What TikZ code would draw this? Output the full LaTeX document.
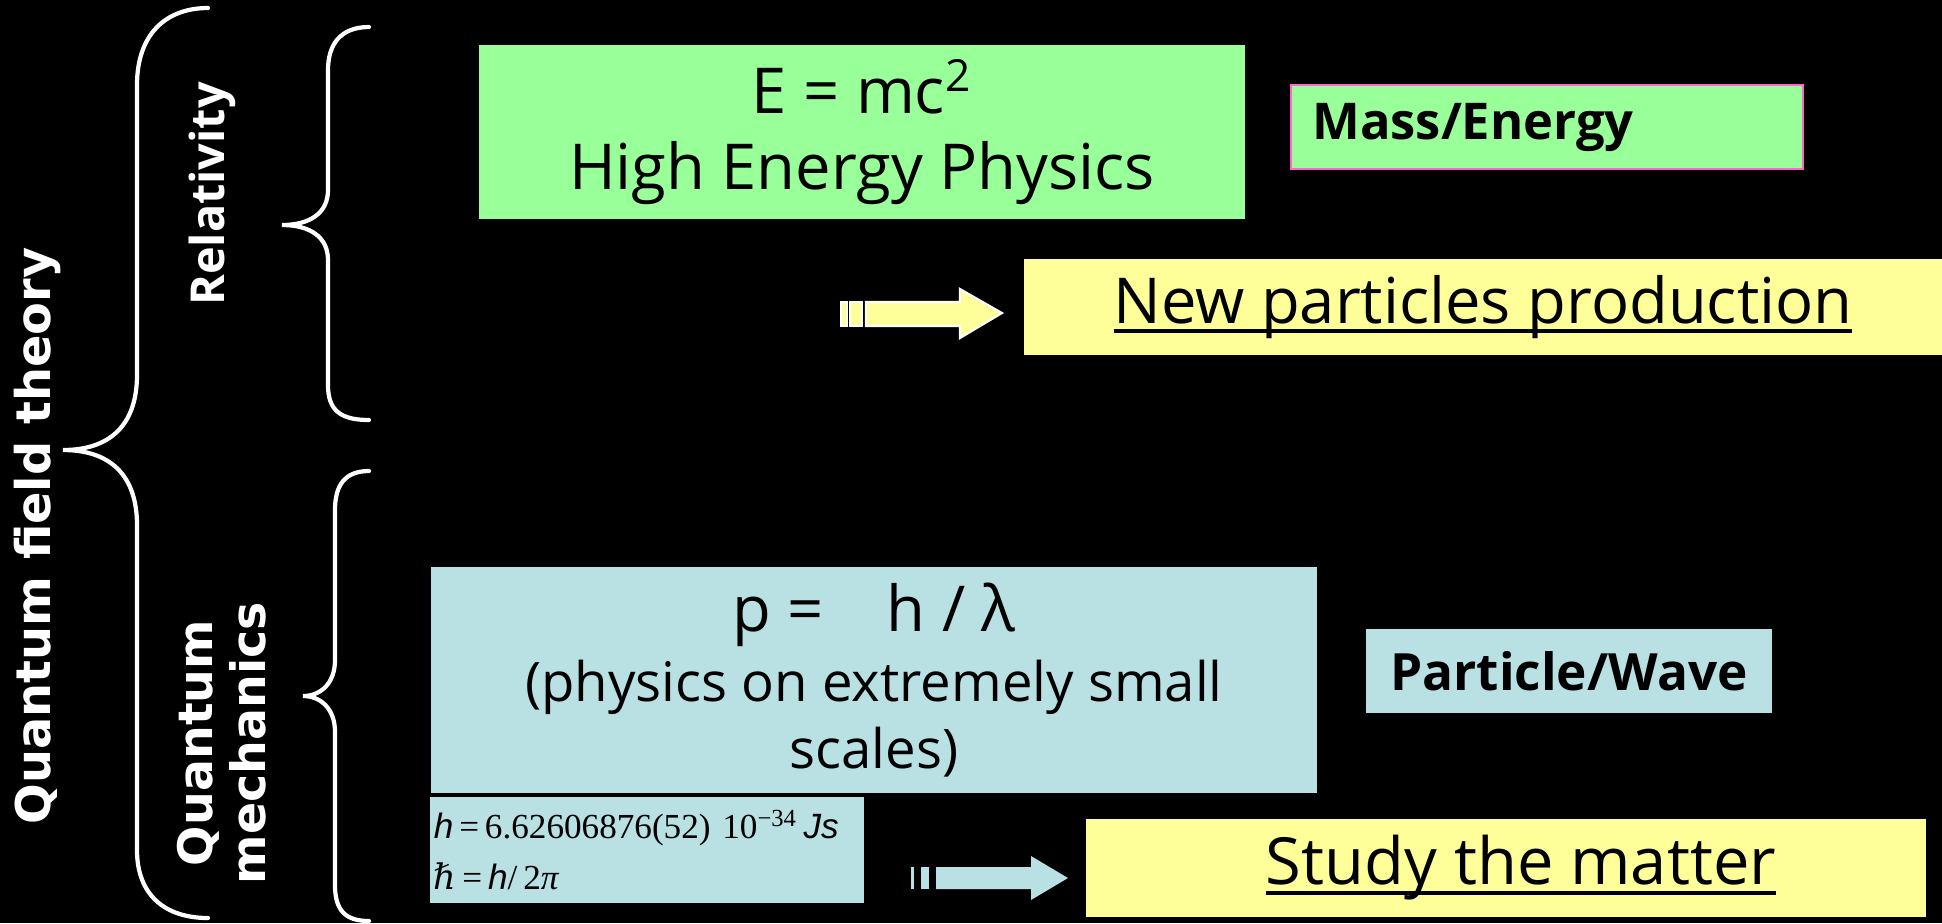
\documentclass[tikz,border=0pt]{standalone}
\usepackage{fontspec}
\setmainfont{Open Sans}
\newfontfamily\verdfont{DejaVu Sans}
\newfontfamily\serffont{Liberation Serif}
\newfontfamily\arialfont{Liberation Sans}
\newfontfamily\hbarfont{DejaVu Serif}
\newlength{\ulwidth}
\newcommand{\uln}[1]{\settowidth{\ulwidth}{#1}\rlap{\rule[-2.8pt]{\ulwidth}{1.1pt}}#1}
\definecolor{massgreen}{HTML}{99FF99}
\definecolor{prodyellow}{HTML}{FFFF99}
\definecolor{wavecyan}{HTML}{B9E1E4}
\definecolor{borderpink}{HTML}{FF66CC}

\begin{document}
\begin{tikzpicture}[
    x=0.01cm, y=-0.01cm,
    panel/.style={inner sep=0pt, align=center},
    brace/.style={draw=white, line width=1.2pt, line cap=round},
    sidelabel/.style={white, rotate=90, inner sep=0pt, align=center},
    yarrow/.style={fill=prodyellow, draw=white, line width=0.6pt},
    carrow/.style={fill=wavecyan}
]

% Background
\fill[black] (0,0) rectangle (1942,923);
\useasboundingbox (0,0) rectangle (1942,923);

% ===== Side labels =====
\node[sidelabel, font=\verdfont\bfseries\fontsize{13.6pt}{16pt}\selectfont] (qft) at (37,536) {Quantum field theory};
\node[sidelabel, font=\bfseries\fontsize{13.3pt}{16pt}\selectfont] (rel) at (212,194) {Relativity};
\node[sidelabel, font=\verdfont\bfseries\fontsize{13.5pt}{15pt}\selectfont] (qm) at (222,743) {Quantum\\mechanics};

% Braces
\draw[brace] (208,8) .. controls (165,8) and (137,35) .. (137,85) -- (137,375)
    .. controls (137,425) and (110,450) .. (63,450)
    .. controls (110,450) and (137,475) .. (137,525) -- (137,850)
    .. controls (137,895) and (165,918) .. (208,918);
\draw[brace] (369,27) .. controls (340,27) and (328,45) .. (328,70) -- (328,190)
    .. controls (328,213) and (310,225) .. (282,225)
    .. controls (310,225) and (328,237) .. (328,260) -- (328,385)
    .. controls (328,410) and (340,420) .. (369,420);
\draw[brace] (369,471) .. controls (345,471) and (335,485) .. (335,510) -- (335,660)
    .. controls (335,684) and (320,696) .. (303,696)
    .. controls (320,696) and (335,708) .. (335,732) -- (335,885)
    .. controls (335,910) and (345,921) .. (369,921);

% ===== Relativity =====
\node[panel, fill=massgreen, minimum width=7.65cm, minimum height=1.73cm,
    font=\fontsize{18pt}{21.5pt}\selectfont] (hep) at (862,132)
    {E = mc\textsuperscript{2}\\High Energy Physics};
\node[panel, fill=massgreen, draw=borderpink, line width=0.6pt, minimum height=0.84cm,
    text width=4.69cm, inner xsep=0.21cm, align=left,
    font=\bfseries\fontsize{14.4pt}{17pt}\selectfont] (mass) at (1547,127) {Mass/Energy};
\node[panel, fill=prodyellow, minimum width=9.17cm, minimum height=0.95cm,
    font=\fontsize{18pt}{21pt}\selectfont] (newp) at (1483,307) {\uln{New particles production}};

% Arrow towards new particles
\filldraw[yarrow] (841,302) rectangle (847,326);
\filldraw[yarrow] (850,302) rectangle (862,326);
\filldraw[yarrow] (866,302) -- (960,302) -- (960,289) -- (1002,313) -- (960,338) -- (960,326) -- (866,326) -- cycle;

% ===== Quantum mechanics =====
\node[panel, fill=wavecyan, minimum width=8.85cm, minimum height=2.25cm,
    font=\fontsize{15.5pt}{19pt}\selectfont] (smallqm) at (874,680)
    {{\fontsize{18pt}{19pt}\selectfont p =\hspace{1em}h / λ}\\[1pt]
     (physics on extremely small\\scales)};
\node[panel, fill=wavecyan, minimum width=4.05cm, minimum height=0.83cm,
    font=\bfseries\fontsize{14.6pt}{17pt}\selectfont] (pw) at (1569,671) {Particle/Wave};
\node[panel, fill=wavecyan, minimum height=1.06cm, text width=4.26cm, inner xsep=0.04cm,
    align=left, font=\serffont\fontsize{10pt}{14.5pt}\selectfont] (planck) at (647,850)
    {{\arialfont\itshape h}\,=\,6.62606876(52)~10\textsuperscript{−34}\,{\arialfont\itshape Js}\\
     {\hbarfont\itshape ℏ}\,=\,{\arialfont\itshape h}/\,2{\itshape π}};
\node[panel, fill=prodyellow, minimum width=8.39cm, minimum height=0.97cm,
    font=\fontsize{18.5pt}{21pt}\selectfont] (matter) at (1506,868) {\hspace{0.3cm}\uln{Study the matter}};

% Arrow towards matter
\fill[carrow] (911,867) rectangle (914,889);
\fill[carrow] (921,867) rectangle (929,889);
\fill[carrow] (936,867) -- (1031,867) -- (1031,856) -- (1068,878) -- (1031,900) -- (1031,889) -- (936,889) -- cycle;

\end{tikzpicture}
\end{document}
